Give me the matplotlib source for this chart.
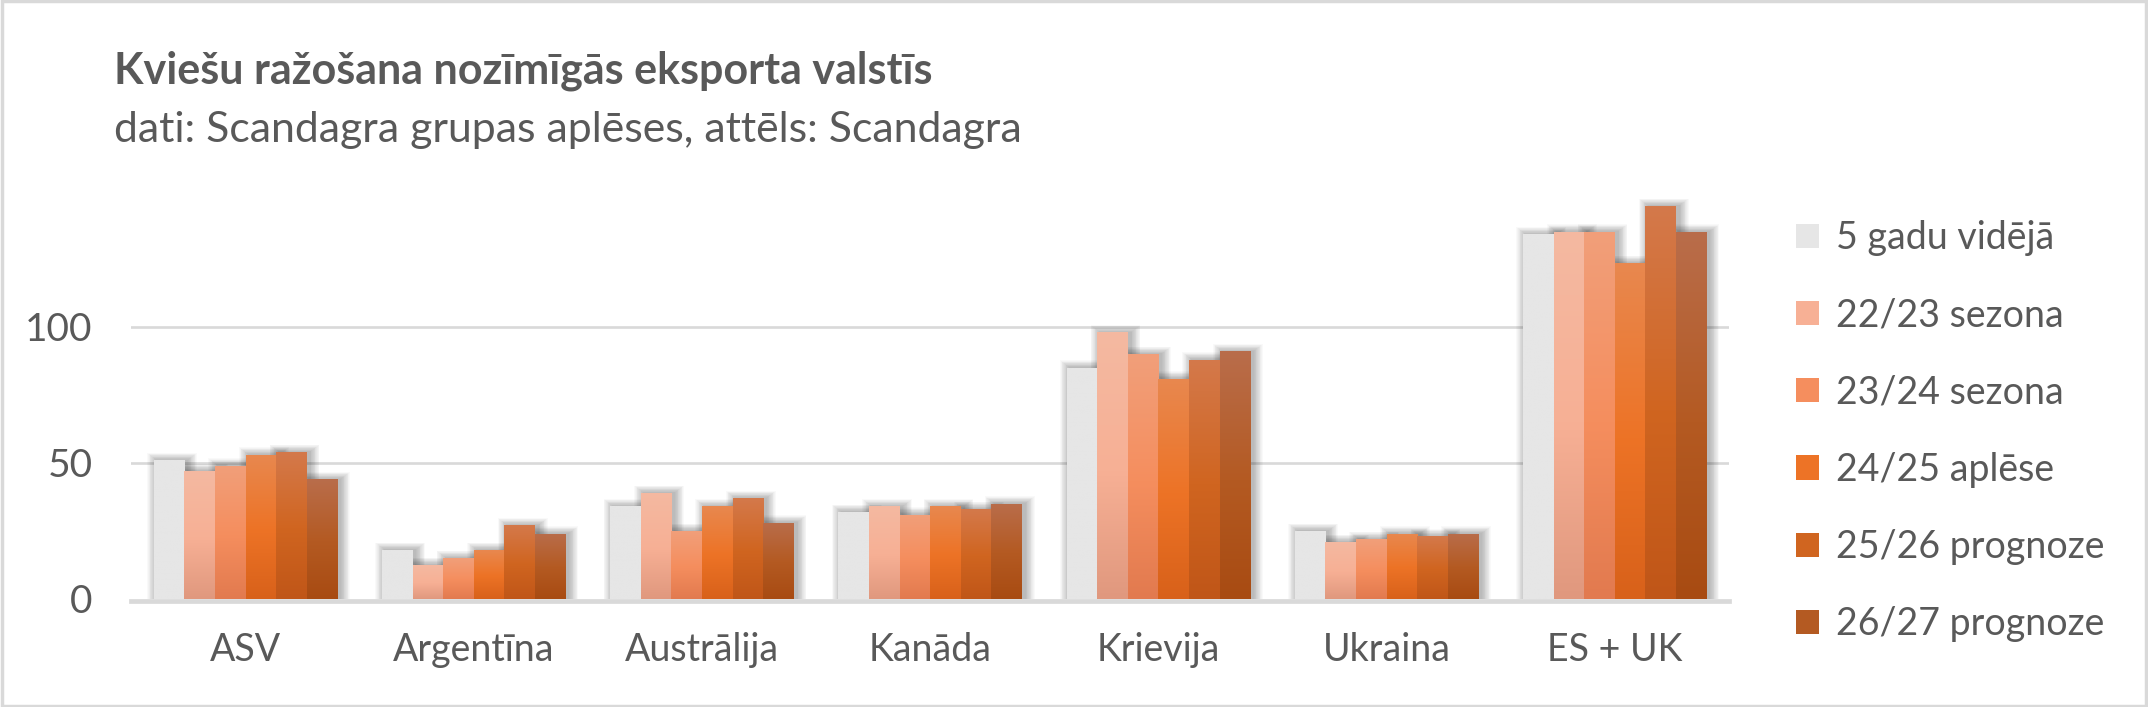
import numpy as np
import matplotlib
matplotlib.use("Agg")
import matplotlib.pyplot as plt
from matplotlib.colors import LinearSegmentedColormap
from matplotlib.patches import Rectangle

countries = ["ASV", "Argentīna", "Austrālija", "Kanāda", "Krievija", "Ukraina", "ES + UK"]
series = ["5 gadu vidējā", "22/23 sezona", "23/24 sezona", "24/25 aplēse",
          "25/26 prognoze", "26/27 prognoze"]

avg_5y = [51, 18, 34, 32, 85, 25, 134]
s_22_23 = [47, 12.5, 39, 34, 98, 21, 135]
s_23_24 = [49, 15, 25, 31, 90, 22, 135]
s_24_25 = [53, 18, 34, 34, 81, 24, 123.5]
s_25_26 = [54, 27, 37, 33, 88, 23, 144.5]
s_26_27 = [44, 24, 28, 35, 91, 24, 135]
values = [avg_5y, s_22_23, s_23_24, s_24_25, s_25_26, s_26_27]

y_ticks = [0, 50, 100]

# bottom, middle, top colours of each bar gradient
grad_colors = [
    ("#e6e6e6", "#e6e6e6", "#e6e6e6"),
    ("#e0987e", "#f7b095", "#f4b9a1"),
    ("#e27a4f", "#f58e5e", "#f19f7a"),
    ("#d8611a", "#ed7326", "#e8884f"),
    ("#c05618", "#d06520", "#d4794b"),
    ("#a84b12", "#b45a22", "#b96d4b"),
]
text_color = "#595959"
grid_color = "#d9d9d9"

plt.rcParams["font.family"] = ["Lato", "DejaVu Sans"]

fig = plt.figure(figsize=(21.48, 7.07), dpi=100)
ax = fig.add_axes([0.0612, 0.153, 0.7437, 0.577])

n = len(series)
group_w = 0.805
bar_w = group_w / n
x = np.arange(len(countries))

ylim = (0, 150)
xlim = (-0.5, len(countries) - 0.5)
px_x = (xlim[1] - xlim[0]) / (0.7437 * 2148)
px_y = (ylim[1] - ylim[0]) / (0.577 * 707)

grad = np.linspace(0, 1, 256).reshape(-1, 1)
for i, (vals, cols) in enumerate(zip(values, grad_colors)):
    offs = x - group_w / 2 + bar_w * (i + 0.5)
    bars = ax.bar(offs, vals, width=bar_w, color=cols[1], zorder=3, label=series[i],
                  linewidth=0)
    cmap = LinearSegmentedColormap.from_list(
        f"g{i}", [(0, cols[0]), (0.48, cols[1]), (1, cols[2])])
    for b in bars:
        bx, by = b.get_x(), b.get_y()
        bw, bh = b.get_width(), b.get_height()
        # soft shadow, a bit stronger to the right
        for k in range(1, 13):
            ax.add_patch(Rectangle((bx - k * 0.8 * px_x + 3 * px_x, by),
                                   bw + 2 * k * 0.8 * px_x, bh + k * 0.6 * px_y,
                                   facecolor="black", alpha=0.022, linewidth=0, zorder=2))
        im = ax.imshow(grad, extent=[bx, bx + bw, by, by + bh], origin="lower",
                       aspect="auto", cmap=cmap, zorder=4)
        im.set_clip_path(b)

ax.set_xlim(*xlim)
ax.set_ylim(*ylim)

for t in y_ticks[1:]:
    ax.axhline(t, color=grid_color, linewidth=1.9, zorder=1)
ax.axhline(-2.3 * px_y, color=grid_color, linewidth=3.4, zorder=1, clip_on=False)

for s in ax.spines.values():
    s.set_visible(False)
ax.set_yticks(y_ticks)
ax.set_xticks(x)
ax.set_xticklabels(countries)
ax.tick_params(axis="both", length=0, labelcolor=text_color)
ax.tick_params(axis="y", pad=28, labelsize=28)
ax.tick_params(axis="x", pad=24, labelsize=27)

fig.text(0.053, 0.882, "Kviešu ražošana nozīmīgās eksporta valstīs", fontsize=31,
         fontweight="bold", color=text_color, va="baseline")
fig.text(0.053, 0.799, "dati: Scandagra grupas aplēses, attēls: Scandagra", fontsize=30.8,
         color=text_color, va="baseline")

leg = fig.legend(loc="upper left", bbox_to_anchor=(0.836, 0.689), frameon=False,
                 fontsize=27, labelcolor=text_color, handlelength=0.62, handleheight=0.62,
                 handletextpad=0.45, labelspacing=1.1, borderaxespad=0, borderpad=0)

fig.add_artist(Rectangle((0.001, 0.002), 0.998, 0.996, transform=fig.transFigure,
                         facecolor="none", edgecolor=grid_color, linewidth=2.5))

fig.savefig("out.png", dpi=100)
